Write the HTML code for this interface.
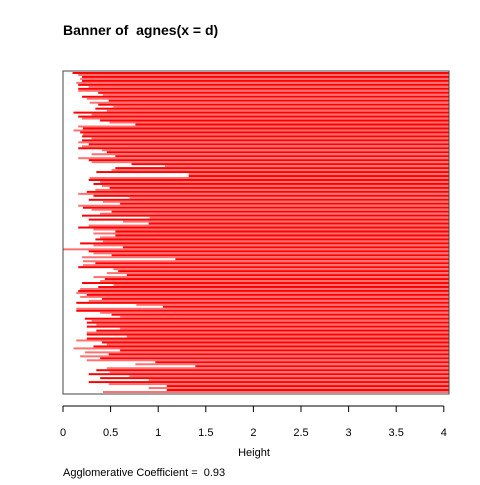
<!DOCTYPE html>
<html><head><meta charset="utf-8"><style>
html,body{margin:0;padding:0;background:#fff;}
svg text{font-family:"Liberation Sans",sans-serif;white-space:pre;}
</style></head><body>
<svg id="chart" width="480" height="480">
<text x="63" y="35" font-size="14" font-weight="bold">Banner of&#160; agnes(x = d)</text>
<g id="bars"></g>
<rect x="63" y="71" width="386" height="323" fill="none" stroke="#444" stroke-width="1"/>
<g id="axis"></g>
<text x="254" y="456" font-size="11" text-anchor="middle">Height</text>
<text x="63" y="476" font-size="11">Agglomerative Coefficient =&#160; 0.93</text>
</svg>
<script>
const heights = [0.10,0.16,0.20,0.18,0.20,0.14,0.16,0.27,0.16,0.16,0.37,0.42,0.20,0.25,0.48,0.28,0.37,0.53,0.34,0.46,
0.11,0.30,0.16,0.20,0.39,0.49,0.76,0.16,0.21,0.11,0.18,0.21,0.20,0.30,0.20,0.16,0.27,0.20,0.16,0.41,
0.46,0.30,0.55,0.16,0.27,0.30,0.72,1.07,0.55,0.51,0.35,1.32,1.32,0.28,0.27,0.39,0.32,0.41,0.49,0.34,
0.25,0.16,0.32,0.70,0.27,0.42,0.60,0.16,0.21,0.30,0.51,0.39,0.20,0.91,0.27,0.63,0.90,0.27,0.16,0.32,0.55,
0.32,0.55,0.39,0.34,0.42,0.18,0.32,0.63,0.0,0.27,0.32,0.51,0.20,1.18,0.21,0.34,0.21,0.16,0.53,0.58,
0.46,0.67,0.32,0.44,0.39,0.20,0.53,0.37,0.18,0.16,0.14,0.25,0.18,0.41,0.27,0.14,0.77,1.05,0.14,0.14,
0.39,0.51,0.60,0.23,0.30,0.25,0.35,0.25,0.60,0.35,0.25,0.25,0.67,0.25,0.14,0.41,0.46,0.32,0.11,0.60,
0.23,0.48,0.18,0.39,0.25,0.97,0.76,1.39,0.46,0.35,0.49,0.27,0.70,0.39,0.90,0.27,0.48,1.09,0.90,1.09,0.42];
const ticks = [0,0.5,1,1.5,2,2.5,3,3.5,4];
const tickLabels = ["0","0.5","1","1.5","2","2.5","3","3.5","4"];
const NS="http://www.w3.org/2000/svg";
const x0=63, xUnit=95.2, xRight=449, yTop=72, yBot=393;
function xs(v){return x0+v*xUnit;}
const rowH=(yBot-yTop)/heights.length;
const bars=document.getElementById('bars');
heights.forEach((h,i)=>{
  const r=document.createElementNS(NS,'rect');
  
  
  const x=xs(h);
  r.setAttribute('x',x);r.setAttribute('y',yTop+i*rowH);
  r.setAttribute('width',xRight-x);r.setAttribute('height',rowH);
  r.setAttribute('fill',i%2?'#ff7070':'#ff0000');
  bars.appendChild(r);
});
const ax=document.getElementById('axis');
const base=document.createElementNS(NS,'line');


base.setAttribute('x1',xs(0));base.setAttribute('x2',xs(4));base.setAttribute('y1',406);base.setAttribute('y2',406);base.setAttribute('stroke','#000');
ax.appendChild(base);
ticks.forEach((t,i)=>{
  const l=document.createElementNS(NS,'line');
  
  
  l.setAttribute('x1',xs(t));l.setAttribute('x2',xs(t));l.setAttribute('y1',406);l.setAttribute('y2',412);l.setAttribute('stroke','#000');
  ax.appendChild(l);
  const tx=document.createElementNS(NS,'text');
  
  
  tx.setAttribute('x',xs(t));tx.setAttribute('y',436);tx.setAttribute('font-size','11');tx.setAttribute('text-anchor','middle');
  tx.textContent=tickLabels[i];
  ax.appendChild(tx);
});
</script>
</body></html>
